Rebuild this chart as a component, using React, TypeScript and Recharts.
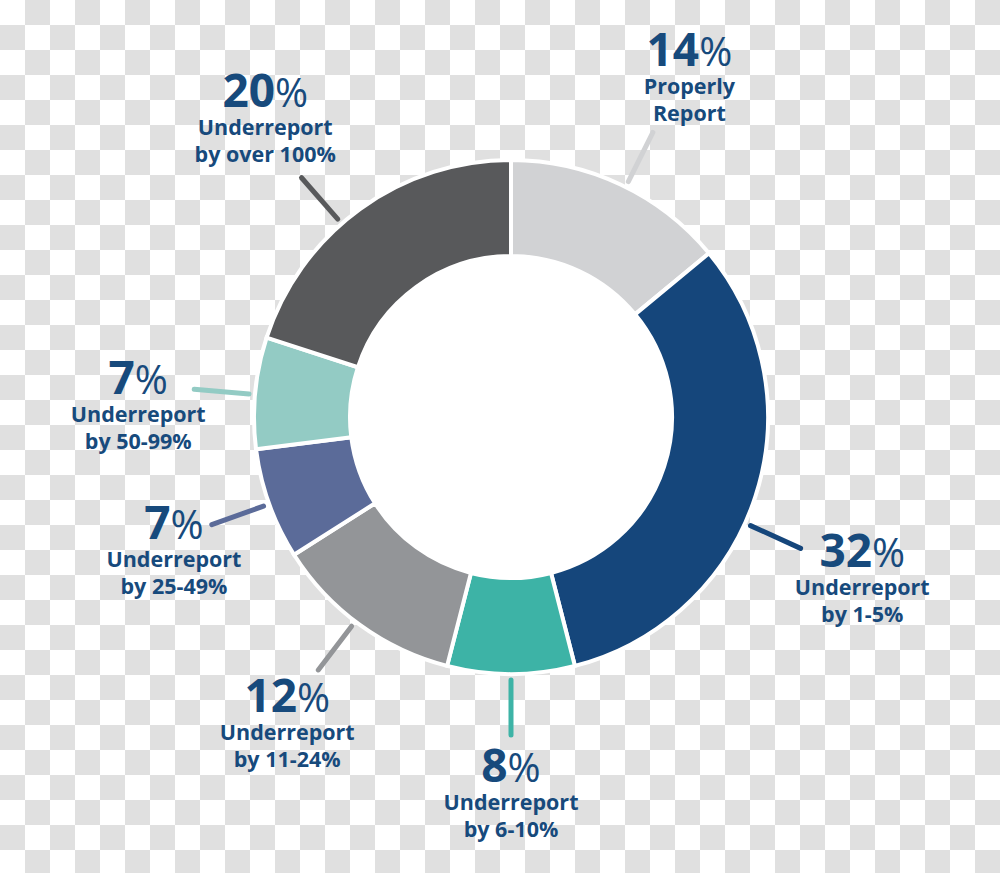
import { Pie, PieChart, Cell } from "recharts";

const categories = [
  "Properly Report",
  "Underreport by 1-5%",
  "Underreport by 6-10%",
  "Underreport by 11-24%",
  "Underreport by 25-49%",
  "Underreport by 50-99%",
  "Underreport by over 100%",
];
const shares = [14, 32, 8, 12, 7, 7, 20];
const labelLine1 = ["Properly", "Underreport", "Underreport", "Underreport", "Underreport", "Underreport", "Underreport"];
const labelLine2 = ["Report", "by 1-5%", "by 6-10%", "by 11-24%", "by 25-49%", "by 50-99%", "by over 100%"];

const colors = ["#d1d2d4", "#15467b", "#3db3a6", "#939598", "#5b6b99", "#93cbc4", "#58595b"];
// hand nudges from the original layout (degrees clockwise, and label distance)
const lineNudge = [1.3, 6.4, 0, 1.3, 0, -0.4, -5.2];
const textNudge = [2.4, 6.5, 0, 0.3, -1.6, -3.4, -3.3];
const textRadius = [385, 386, 375, 378, 362, 373, 388];

const TEXT = "#174a7c";
const RAD = Math.PI / 180;

const data = categories.map((name, i) => ({ name, value: shares[i] }));

function SliceLabel(props: any) {
  const { cx, cy, midAngle, index } = props;
  const la = (midAngle - lineNudge[index]) * RAD;
  const ta = (midAngle - textNudge[index]) * RAD;
  const lx = (r: number) => cx + r * Math.cos(la);
  const ly = (r: number) => cy - r * Math.sin(la);
  const bx = cx + textRadius[index] * Math.cos(ta);
  const by = cy - textRadius[index] * Math.sin(ta);
  return (
    <g>
      <line
        x1={lx(263)}
        y1={ly(263)}
        x2={lx(318)}
        y2={ly(318)}
        stroke={colors[index]}
        strokeWidth={5}
        strokeLinecap="round"
      />
      <text
        x={bx}
        y={by - 10}
        textAnchor="middle"
        fill={TEXT}
        fontFamily="'Open Sans', sans-serif"
        fontWeight={700}
        fontSize={46}
      >
        {shares[index]}
        <tspan fontWeight={400} fontSize={40}>%</tspan>
      </text>
      <text
        x={bx}
        y={by + 18}
        textAnchor="middle"
        fill={TEXT}
        fontFamily="'Open Sans', sans-serif"
        fontWeight={700}
        fontSize={21.5}
      >
        {labelLine1[index]}
      </text>
      <text
        x={bx}
        y={by + 45}
        textAnchor="middle"
        fill={TEXT}
        fontFamily="'Open Sans', sans-serif"
        fontWeight={700}
        fontSize={21.5}
      >
        {labelLine2[index]}
      </text>
    </g>
  );
}

export default function App() {
  return (
    <div
      style={{
        position: "absolute",
        left: 0,
        top: 0,
        width: 1000,
        height: 873,
        background:
          "repeating-conic-gradient(#e0e0e0 0 25%, #ffffff 0 50%) 0 0 / 50px 50px",
      }}
    >
      <PieChart width={1000} height={873} margin={{ top: 0, right: 0, bottom: 0, left: 0 }}>
        <Pie
          data={[{ name: "hole", value: 1 }]}
          dataKey="value"
          cx={511}
          cy={417}
          innerRadius={0}
          outerRadius={162}
          fill="#ffffff"
          stroke="none"
          isAnimationActive={false}
        />
        <Pie
          data={data}
          dataKey="value"
          nameKey="name"
          cx={511}
          cy={417}
          innerRadius={161}
          outerRadius={257}
          startAngle={90}
          endAngle={-270}
          stroke="#ffffff"
          strokeWidth={4}
          label={SliceLabel}
          labelLine={false}
          isAnimationActive={false}
        >
          {data.map((d, i) => (
            <Cell key={d.name} fill={colors[i]} />
          ))}
        </Pie>
      </PieChart>
    </div>
  );
}
